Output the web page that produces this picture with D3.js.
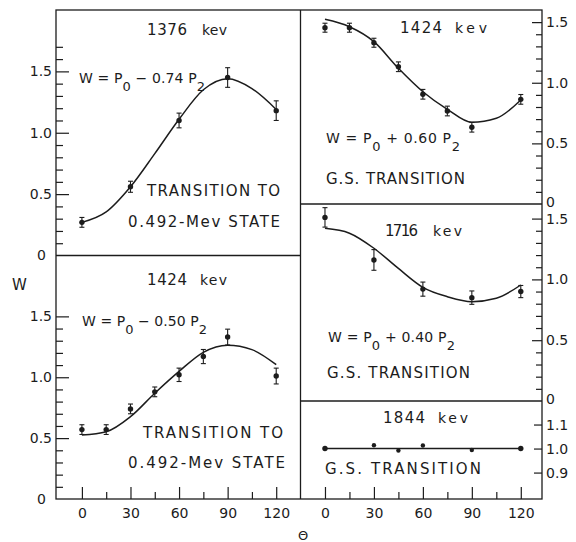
<!DOCTYPE html>
<html>
<head>
<meta charset="utf-8">
<script src="https://cdn.jsdelivr.net/npm/d3@7"></script>
<style>
  html, body { margin: 0; padding: 0; background: #fff; }
  svg { display: block; }
  text { font-family: "DejaVu Sans", sans-serif; fill: #1c1c1c; }
</style>
</head>
<body>
<svg id="chart" width="576" height="542"></svg>
<script>
// Gamma-ray angular correlations W(Θ) for several transitions.

// Angle axis
const angleTicks = [0, 30, 60, 90, 120];
const angleMinorTicks = [15, 45, 75, 105];
const angleLabels = ["0", "30", "60", "90", "120"];

// W axis labels
const wMajorTicks = [0, 0.5, 1.0, 1.5];
const wMajorLabels = ["0", "0.5", "1.0", "1.5"];
const wNarrowTicks = [0.9, 1.0, 1.1];
const wNarrowLabels = ["0.9", "1.0", "1.1"];

// 1376 kev, transition to the 0.492-Mev state
const theta1376 = [0, 30, 60, 90, 120];
const w1376 = [0.27, 0.56, 1.10, 1.45, 1.18];
const err1376 = [0.04, 0.045, 0.06, 0.08, 0.08];
const fitTheta1376 = [0, 15, 30, 45, 60, 75, 90, 105, 120];
const fitW1376 = [0.27, 0.355, 0.56, 0.83, 1.11, 1.35, 1.44, 1.36, 1.19];

// 1424 kev, transition to the 0.492-Mev state
const theta1424a = [0, 15, 30, 45, 60, 75, 90, 120];
const w1424a = [0.57, 0.57, 0.74, 0.88, 1.02, 1.17, 1.33, 1.01];
const err1424a = [0.04, 0.04, 0.04, 0.04, 0.055, 0.058, 0.065, 0.065];
const fitTheta1424a = [0, 15, 30, 45, 60, 75, 90, 105, 120];
const fitW1424a = [0.525, 0.552, 0.676, 0.869, 1.048, 1.205, 1.263, 1.227, 1.103];

// 1424 kev, ground-state transition
const theta1424b = [0, 15, 30, 45, 60, 75, 90, 120];
const w1424b = [1.454, 1.454, 1.33, 1.132, 0.905, 0.767, 0.633, 0.863];
const err1424b = [0.037, 0.037, 0.037, 0.04, 0.04, 0.04, 0.04, 0.04];
const fitTheta1424b = [0, 15, 30, 45, 60, 75, 90, 105, 120];
const fitW1424b = [1.523, 1.462, 1.339, 1.119, 0.926, 0.781, 0.674, 0.707, 0.858];

// 1716 kev, ground-state transition
const theta1716 = [0, 30, 60, 90, 120];
const w1716 = [1.51, 1.16, 0.92, 0.85, 0.90];
const err1716 = [0.08, 0.085, 0.058, 0.055, 0.05];
const fitTheta1716 = [0, 15, 30, 45, 60, 75, 90, 105, 120];
const fitW1716 = [1.42, 1.38, 1.256, 1.09, 0.935, 0.858, 0.817, 0.845, 0.954];

// 1844 kev, ground-state transition
const theta1844 = [0, 30, 45, 60, 90, 120];
const w1844 = [1.0, 1.014, 0.992, 1.013, 0.994, 1.0];
const fitTheta1844 = [0, 120];
const fitW1844 = [1.0, 1.0];

const svg = d3.select("#chart");
const ink = "#1c1c1c";

// Column geometry
const frameTop = 10, frameBottom = 499;
const leftCol = { x0: 56, x1: 300.5, domain: [-16, 135] };
const rightCol = { x0: 300.5, x1: 542, domain: [-15, 133] };
leftCol.x = d3.scaleLinear().domain(leftCol.domain).range([leftCol.x0, leftCol.x1]);
rightCol.x = d3.scaleLinear().domain(rightCol.domain).range([rightCol.x0, rightCol.x1]);

const panels = [
  { col: leftCol, side: "left", y0: 255.5, y1: frameTop, domain: [0, 2.0], tickMax: 1.7,
    theta: theta1376, w: w1376, err: err1376, fitT: fitTheta1376, fitW: fitW1376 },
  { col: leftCol, side: "left", y0: frameBottom, y1: 255.5, domain: [0, 2.0], tickMax: 1.5,
    theta: theta1424a, w: w1424a, err: err1424a, fitT: fitTheta1424a, fitW: fitW1424a },
  { col: rightCol, side: "right", y0: 204, y1: frameTop, domain: [0, 1.6], tickMax: 1.5,
    theta: theta1424b, w: w1424b, err: err1424b, fitT: fitTheta1424b, fitW: fitW1424b },
  { col: rightCol, side: "right", y0: 401, y1: 204, domain: [0, 1.62], tickMax: 1.5,
    theta: theta1716, w: w1716, err: err1716, fitT: fitTheta1716, fitW: fitW1716 },
  { col: rightCol, side: "right", y0: frameBottom, y1: 401, domain: [0.79, 1.198], narrow: true,
    theta: theta1844, w: w1844, err: null, fitT: fitTheta1844, fitW: fitW1844 }
];

// Frames
const frame = svg.append("g").attr("fill", "none").attr("stroke", ink).attr("stroke-width", 1.3);
frame.append("rect").attr("x", leftCol.x0).attr("y", frameTop)
  .attr("width", rightCol.x1 - leftCol.x0).attr("height", frameBottom - frameTop);
frame.append("line").attr("x1", leftCol.x1).attr("x2", leftCol.x1).attr("y1", frameTop).attr("y2", frameBottom);
frame.append("line").attr("x1", leftCol.x0).attr("x2", leftCol.x1).attr("y1", 255.5).attr("y2", 255.5);
frame.append("line").attr("x1", rightCol.x0).attr("x2", rightCol.x1).attr("y1", 204).attr("y2", 204);
frame.append("line").attr("x1", rightCol.x0).attr("x2", rightCol.x1).attr("y1", 401).attr("y2", 401);

function styleAxis(g) {
  g.select(".domain").remove();
  g.selectAll(".tick line").attr("stroke", ink).attr("stroke-width", 1.2);
  g.selectAll(".tick text").attr("fill", ink).style("font-family", "DejaVu Sans")
    .style("font-size", "14px");
}

panels.forEach(p => {
  const x = p.col.x;
  const y = d3.scaleLinear().domain(p.domain).range([p.y0, p.y1]);
  p.y = y;
  const onLeft = p.side === "left";
  const axisPos = onLeft ? p.col.x0 : p.col.x1;
  const mk = onLeft ? d3.axisLeft : d3.axisRight;

  const majors = p.narrow ? wNarrowTicks : wMajorTicks;
  const labels = p.narrow ? wNarrowLabels : wMajorLabels;

  if (!p.narrow) {
    const minors = d3.range(1, Math.round(p.tickMax * 10) + 1)
      .map(i => i / 10).filter(v => Math.abs(v * 2 - Math.round(v * 2)) > 1e-6);
    svg.append("g").attr("transform", `translate(${axisPos},0)`)
      .call(mk(y).tickValues(minors).tickSizeInner(onLeft ? -7 : -6).tickSizeOuter(0).tickFormat(""))
      .call(styleAxis);
  }
  const gMaj = svg.append("g").attr("transform", `translate(${axisPos},0)`)
    .call(mk(y).tickValues(majors).tickSizeInner(onLeft ? -13 : (p.narrow ? -8 : -10))
      .tickSizeOuter(0).tickPadding(4)
      .tickFormat((d, i) => labels[i]))
    .call(styleAxis);
  // the zero label sits a little apart from the others
  gMaj.selectAll(".tick").filter(d => d === 0).each(function () {
    const t = d3.select(this);
    t.select("line").remove();
    t.select("text").attr("x", onLeft ? -10 : 4).attr("dy", onLeft ? "0.32em" : "0.2em");
  });

  // fitted curve
  const fit = p.fitT.map((t, i) => [t, p.fitW[i]]);
  svg.append("path").datum(fit)
    .attr("fill", "none").attr("stroke", ink).attr("stroke-width", 1.5)
    .attr("d", d3.line().x(d => x(d[0])).y(d => y(d[1])).curve(d3.curveMonotoneX));

  // error bars
  if (p.err) {
    const eb = svg.append("g").attr("stroke", ink).attr("stroke-width", 1.1);
    p.theta.forEach((t, i) => {
      const cx = x(t), yHi = y(p.w[i] + p.err[i]), yLo = y(p.w[i] - p.err[i]);
      eb.append("line").attr("x1", cx).attr("x2", cx).attr("y1", yHi).attr("y2", yLo);
      eb.append("line").attr("x1", cx - 2.5).attr("x2", cx + 2.5).attr("y1", yHi).attr("y2", yHi);
      eb.append("line").attr("x1", cx - 2.5).attr("x2", cx + 2.5).attr("y1", yLo).attr("y2", yLo);
    });
  }

  // measured points
  svg.append("g").selectAll("circle").data(p.theta).join("circle")
    .attr("cx", d => x(d)).attr("cy", (d, i) => y(p.w[i]))
    .attr("r", (d, i) => p.narrow && d !== 0 && d !== 120 ? 2.2 : 2.7)
    .attr("fill", ink);
});

// Angle axes along the bottom
[leftCol, rightCol].forEach(c => {
  svg.append("g").attr("transform", `translate(0,${frameBottom})`)
    .call(d3.axisBottom(c.x).tickValues(angleMinorTicks).tickSizeInner(-7).tickSizeOuter(0).tickFormat(""))
    .call(styleAxis);
  svg.append("g").attr("transform", `translate(0,${frameBottom})`)
    .call(d3.axisBottom(c.x).tickValues(angleTicks).tickSizeInner(-12).tickSizeOuter(0)
      .tickPadding(9).tickFormat((d, i) => angleLabels[i]))
    .call(styleAxis);
});

// Text helpers
function label(x, y, str, size, width) {
  const t = svg.append("text").attr("x", x).attr("y", y)
    .style("font-size", size + "px").text(str);
  if (width) t.attr("textLength", width).attr("lengthAdjust", "spacing");
  return t;
}
function energy(x1, x2, y, num, xk, xk2) {
  label(x1, y, num, 15, x2 - x1);
  label(xk, y, "kev", 14, xk2 - xk);
}
function formula(x, y, width, sign, coef) {
  const t = svg.append("text").attr("x", x).attr("y", y).style("font-size", "14px")
    .attr("textLength", width).attr("lengthAdjust", "spacing");
  t.append("tspan").text("W = P");
  t.append("tspan").attr("dy", 8).style("font-size", "13px").text("0");
  t.append("tspan").attr("dy", -8).text(` ${sign} ${coef} P`);
  t.append("tspan").attr("dy", 8).style("font-size", "13px").text("2");
}

// 1376 kev panel
energy(147, 187, 35, "1376", 202, 227);
formula(79, 83, 126, "\u2212", "0.74");
label(147, 196, "TRANSITION TO", 15, 133);
label(128, 227, "0.492-Mev STATE", 15, 152);

// 1424 kev panel, left
energy(147, 187, 285, "1424", 200, 227);
formula(82, 326, 125, "\u2212", "0.50");
label(143, 438, "TRANSITION TO", 15, 140);
label(128, 468, "0.492-Mev STATE", 15, 157);

// 1424 kev panel, right
energy(400, 442, 33, "1424", 455, 487);
formula(326, 143, 134, "+", "0.60");
label(326, 184, "G.S. TRANSITION", 15, 139);

// 1716 kev panel
energy(385, 418, 236, "1716", 433, 462);
formula(328, 342, 127, "+", "0.40");
label(327, 378, "G.S. TRANSITION", 15, 143);

// 1844 kev panel
energy(383, 425, 423, "1844", 438, 468);
label(325, 474, "G.S. TRANSITION", 15, 156);

// Axis titles
label(12, 290, "W", 15);
svg.append("text").attr("x", 303).attr("y", 535).attr("text-anchor", "middle")
  .attr("dy", "0.36em").style("font-size", "13px").text("\u0398");
</script>
</body>
</html>
